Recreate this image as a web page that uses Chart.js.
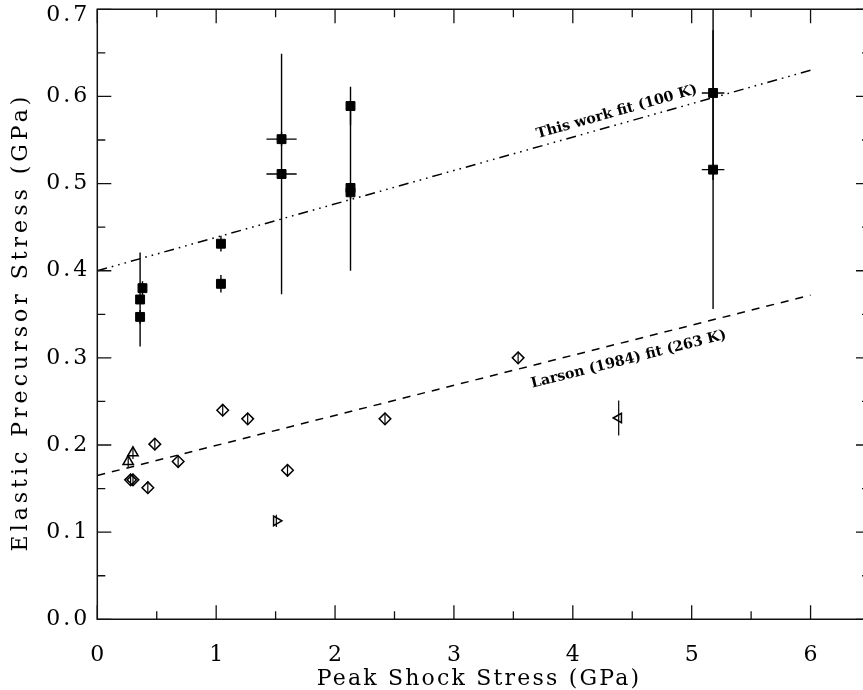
<!DOCTYPE html>
<html><head><meta charset="utf-8">
<script src="https://cdn.jsdelivr.net/npm/chart.js@4"></script>
<style>html,body{margin:0;padding:0;overflow:hidden;background:#fff;width:863px;height:690px}canvas{display:block}</style>
</head><body>
<canvas id="c" width="880" height="690"></canvas>
<script>
// ---- tick values ----
const xTickValues  = [0, 1, 2, 3, 4, 5, 6];
const xMinorValues = [0.5, 1.5, 2.5, 3.5, 4.5, 5.5, 6.5];
const yTickValues  = [0.0, 0.1, 0.2, 0.3, 0.4, 0.5, 0.6, 0.7];
const yMinorValues = [0.05, 0.15, 0.25, 0.35, 0.45, 0.55, 0.65];
const xTickLabels  = ['0', '1', '2', '3', '4', '5', '6'];
const yTickLabels  = ['0.0', '0.1', '0.2', '0.3', '0.4', '0.5', '0.6', '0.7'];
const xTitle = 'Peak Shock Stress (GPa)';
const yTitle = 'Elastic Precursor Stress (GPa)';

// ---- This work (filled squares) ----
const workX    = [0.36, 0.36, 0.38, 1.04, 1.04, 1.55, 1.55, 2.13, 2.13, 2.13, 5.18, 5.18];
const workY    = [0.347, 0.367, 0.380, 0.431, 0.385, 0.551, 0.511, 0.589, 0.495, 0.490, 0.604, 0.516];
const workXErr = [0, 0, 0, 0, 0, 0.127, 0.127, 0, 0, 0, 0.095, 0.095];
const workYErr = [0.008, 0.054, 0.008, 0.009, 0.010, 0.008, 0.138, 0.022, 0.095, 0.008, 0.100, 0.160];

// ---- Larson (1984) data ----
const diamondX = [0.28, 0.30, 0.425, 0.484, 0.68, 1.055, 1.265, 1.60, 2.42, 3.54];
const diamondY = [0.160, 0.160, 0.151, 0.201, 0.181, 0.240, 0.230, 0.171, 0.230, 0.300];
const triUpX = [0.26, 0.30];
const triUpY = [0.181, 0.191];
const triRightX = [1.506];
const triRightY = [0.113];
const triLeftX = [4.386];
const triLeftY = [0.231];
const triLeftYErr = [0.020];
const larsonSmallErr = 0.007;

// ---- fits ----
const fitX = [0, 6];
const workFitY = [0.400, 0.630];
const larsonFitY = [0.165, 0.372];

// ---- labels ----
const workLabel = {text: 'This work fit (100 K)', x: 4.37, y: 0.582};
const larsonLabel = {text: 'Larson (1984) fit (263 K)', x: 4.47, y: 0.298};

const pts = (xs, ys) => xs.map((x, i) => ({x: x, y: ys[i]}));
const SERIF = '"DejaVu Serif", "Liberation Serif", serif';

const frame = {
  id: 'frame',
  beforeDatasetsDraw(chart) {
    const {ctx, chartArea: a, scales: {x, y}} = chart;
    ctx.save();
    ctx.beginPath(); ctx.rect(a.left, a.top, a.right - a.left, a.bottom - a.top); ctx.clip();
    ctx.strokeStyle = '#000'; ctx.lineWidth = 1.4;
    const vbar = (xv, y1, y2) => { const px = x.getPixelForValue(xv); ctx.beginPath(); ctx.moveTo(px, y.getPixelForValue(y1)); ctx.lineTo(px, y.getPixelForValue(y2)); ctx.stroke(); };
    const hbar = (yv, x1, x2) => { const py = y.getPixelForValue(yv); ctx.beginPath(); ctx.moveTo(x.getPixelForValue(x1), py); ctx.lineTo(x.getPixelForValue(x2), py); ctx.stroke(); };
    workX.forEach((xv, i) => {
      if (workYErr[i] > 0) vbar(xv, workY[i] - workYErr[i], workY[i] + workYErr[i]);
      if (workXErr[i] > 0) hbar(workY[i], xv - workXErr[i], xv + workXErr[i]);
    });
    ctx.lineWidth = 1.2;
    diamondX.forEach((xv, i) => vbar(xv, diamondY[i] - larsonSmallErr, diamondY[i] + larsonSmallErr));
    triUpX.forEach((xv, i) => vbar(xv, triUpY[i] - larsonSmallErr, triUpY[i] + larsonSmallErr));
    triRightX.forEach((xv, i) => vbar(xv, triRightY[i] - larsonSmallErr, triRightY[i] + larsonSmallErr));
    triLeftX.forEach((xv, i) => vbar(xv, triLeftY[i] - triLeftYErr[i], triLeftY[i] + triLeftYErr[i]));
    ctx.restore();
  },
  afterDraw(chart) {
    const {ctx, chartArea: a, scales: {x, y}} = chart;
    ctx.save();
    ctx.strokeStyle = '#111'; ctx.lineWidth = 1.5;
    ctx.beginPath();
    ctx.moveTo(a.left, a.top); ctx.lineTo(a.left, a.bottom); ctx.lineTo(a.right, a.bottom);
    ctx.lineTo(a.right, a.top); ctx.closePath(); ctx.stroke();
    const MAJ = 14, MIN = 8;
    ctx.lineWidth = 1.3;
    ctx.beginPath();
    const xt = (v, L) => { const p = x.getPixelForValue(v); ctx.moveTo(p, a.bottom); ctx.lineTo(p, a.bottom - L); ctx.moveTo(p, a.top); ctx.lineTo(p, a.top + L); };
    const yt = (v, L) => { const p = y.getPixelForValue(v); ctx.moveTo(a.left, p); ctx.lineTo(a.left + L, p); ctx.moveTo(a.right, p); ctx.lineTo(a.right - L, p); };
    xTickValues.forEach(v => xt(v, MAJ)); xMinorValues.forEach(v => xt(v, MIN));
    yTickValues.forEach(v => yt(v, MAJ)); yMinorValues.forEach(v => yt(v, MIN));
    ctx.stroke();
    // tick labels
    ctx.fillStyle = '#000';
    ctx.textBaseline = 'middle';
    ctx.font = '22px ' + SERIF;
    ctx.letterSpacing = '3px';
    ctx.textAlign = 'center';
    xTickValues.forEach((v, i) => ctx.fillText(xTickLabels[i], x.getPixelForValue(v) + 1.5, a.bottom + 36));
    ctx.textAlign = 'right';
    yTickValues.forEach((v, i) => ctx.fillText(yTickLabels[i], a.left - 7, Math.max(y.getPixelForValue(v), 15)));
    // axis titles
    ctx.textAlign = 'center';
    ctx.letterSpacing = '2.2px';
    ctx.fillText(xTitle, 479, 679);
    ctx.save();
    ctx.translate(21, 322); ctx.rotate(-Math.PI / 2);
    ctx.letterSpacing = '4px';
    ctx.fillText(yTitle, 0, 0);
    ctx.restore();
    // rotated fit labels
    ctx.letterSpacing = '0px';
    ctx.font = 'bold 14.3px ' + SERIF;
    const lab = (L, fy) => {
      const x1 = x.getPixelForValue(fitX[0]), y1 = y.getPixelForValue(fy[0]);
      const x2 = x.getPixelForValue(fitX[1]), y2 = y.getPixelForValue(fy[1]);
      const ang = Math.atan2(y2 - y1, x2 - x1);
      ctx.save();
      ctx.translate(x.getPixelForValue(L.x), y.getPixelForValue(L.y));
      ctx.rotate(ang);
      ctx.fillText(L.text, 0, 0);
      ctx.restore();
    };
    lab(workLabel, workFitY);
    lab(larsonLabel, larsonFitY);
    ctx.restore();
  }
};

new Chart(document.getElementById('c'), {
  type: 'scatter',
  data: {
    datasets: [
      {label: 'This work fit', type: 'line', data: pts(fitX, workFitY), showLine: true, borderColor: '#000', borderWidth: 1.5,
       borderDash: [10, 5, 1.6, 5, 1.6, 5, 1.6, 5], pointRadius: 0, fill: false},
      {label: 'Larson fit', type: 'line', data: pts(fitX, larsonFitY), showLine: true, borderColor: '#000', borderWidth: 1.5,
       borderDash: [8, 7], pointRadius: 0, fill: false},
      {label: 'This work', data: pts(workX, workY), pointStyle: 'rect', pointRadius: 6.3, backgroundColor: '#000', borderColor: '#000', borderWidth: 1},
      {label: 'Larson diamonds', data: pts(diamondX, diamondY), pointStyle: 'rectRot', pointRadius: 5.8, backgroundColor: 'rgba(0,0,0,0)', borderColor: '#000', borderWidth: 1.5},
      {label: 'Larson up', data: pts(triUpX, triUpY), pointStyle: 'triangle', pointRadius: 6, backgroundColor: 'rgba(0,0,0,0)', borderColor: '#000', borderWidth: 1.5},
      {label: 'Larson right', data: pts(triRightX, triRightY), pointStyle: 'triangle', pointRotation: 90, pointRadius: 5.5, backgroundColor: 'rgba(0,0,0,0)', borderColor: '#000', borderWidth: 1.5},
      {label: 'Larson left', data: pts(triLeftX, triLeftY), pointStyle: 'triangle', pointRotation: -90, pointRadius: 5.5, backgroundColor: 'rgba(0,0,0,0)', borderColor: '#000', borderWidth: 1.5}
    ]
  },
  options: {
    responsive: false, animation: false,
    layout: {padding: {left: 0, top: 9.3, right: 10, bottom: 0}},
    plugins: {legend: {display: false}, tooltip: {enabled: false}},
    scales: {
      x: {
        type: 'linear', position: 'bottom', min: 0, max: 6.5,
        afterBuildTicks: s => { s.ticks = xTickValues.map(v => ({value: v})); },
        afterFit: s => { s.height = 70.7; s.paddingLeft = 0; s.paddingRight = 0; },
        grid: {display: false, drawTicks: false}, border: {display: false},
        ticks: {display: false},
        title: {display: false}
      },
      y: {
        type: 'linear', position: 'left', min: 0, max: 0.7,
        afterBuildTicks: s => { s.ticks = yTickValues.map(v => ({value: v})); },
        afterFit: s => { s.width = 97.3; s.paddingTop = 0; s.paddingBottom = 0; },
        grid: {display: false, drawTicks: false}, border: {display: false},
        ticks: {display: false},
        title: {display: false}
      }
    }
  },
  plugins: [frame]
});
</script>
</body></html>
